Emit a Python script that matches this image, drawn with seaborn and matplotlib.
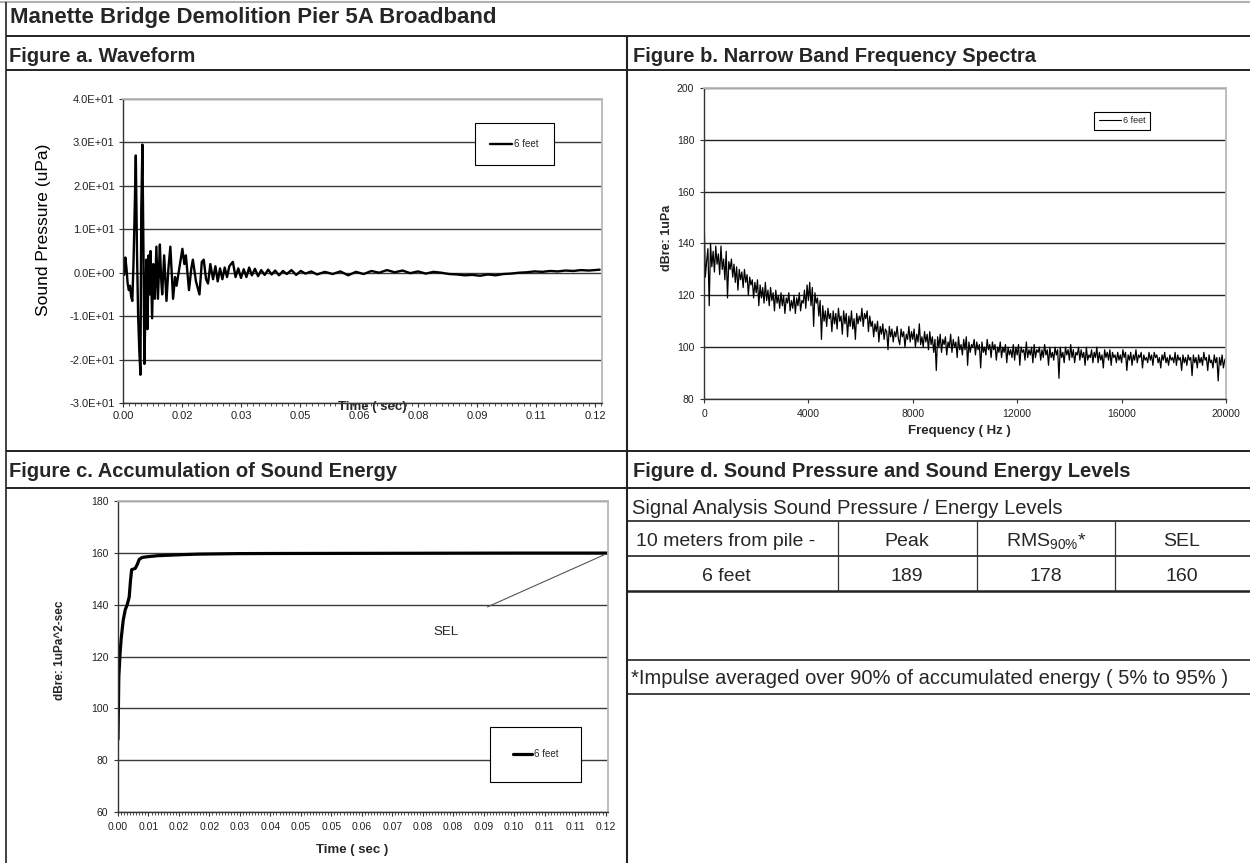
import numpy as np
import matplotlib
matplotlib.use("Agg")
import matplotlib.pyplot as plt
from matplotlib.ticker import FuncFormatter, MultipleLocator
import seaborn as sns

# ---------------- data ----------------
# Figure a: waveform (time in ms, sound pressure)
wave_ms = [0.0, 0.3, 0.6, 0.9, 1.2, 1.5, 1.8, 2.1, 2.4, 2.7,
           3.0, 3.3, 3.6, 3.9, 4.2, 4.5, 4.7, 5.0, 5.3, 5.5,
           5.8, 6.0, 6.3, 6.6, 6.9, 7.1, 7.5, 7.8, 8.2, 8.6,
           9.0, 9.5, 9.8, 10.1, 10.6, 11.2, 11.7, 12.2, 12.9, 13.4,
           13.8, 14.5, 15.3, 15.8, 16.2, 17.0, 17.6, 18.0, 18.8, 19.7,
           20.3, 20.8, 21.4, 21.9, 22.5, 23.2, 23.8, 24.4, 25.0, 25.6,
           26.2, 26.8, 27.4, 28.3, 29.0, 29.7, 30.4, 31.1, 31.8, 32.5,
           33.2, 34.0, 34.8, 35.6, 36.5, 37.4, 38.3, 39.2, 40.2, 41.2,
           42.2, 43.4, 44.6, 45.8, 47.0, 48.5, 50.0, 52.0, 54.0,
           56.0, 58.0, 60.0, 62.0, 64.0, 66.0, 68.0, 70.0, 72.0, 74.0,
           76.0, 78.0, 80.0, 82.0, 84.0, 86.0, 88.0, 90.0, 92.0, 94.0,
           96.0, 98.0, 100.0, 102.0, 104.0, 106.0, 108.0, 110.0, 112.0, 114.0,
           116.0, 118.0, 120.0, 122.8]
wave_upa = [0.0, -0.5, 3.5, 1.0, -2.5, -4.0, -3.0, -5.5, -6.5, 2.0,
            14.0, 27.0, 5.0, -10.0, -18.0, -23.5, 14.0, 29.5, 2.0, -21.0,
            -8.0, 3.0, -13.0, 4.0, -5.0, 5.0, -10.5, 2.0, -6.0, 6.0,
            -6.0, 6.5, -1.0, -5.0, 4.0, -6.5, 1.0, 6.0, -6.0, -1.0,
            -3.0, 1.0, 5.5, 2.0, 4.0, -4.0, 1.0, 3.0, -2.0, -5.0,
            2.5, 3.0, -1.5, -2.5, 2.0, -1.5, 1.5, -2.0, 1.0, -1.5,
            1.2, -1.0, 1.5, 2.5, -1.0, 1.0, -1.2, 0.8, -1.0, 1.2,
            -0.6, 0.9, -0.8, 0.6, -0.5, 0.7, -0.4, 0.5, -0.6, 0.4,
            -0.3, 0.6, -0.5, 0.4, -0.2, 0.3, -0.4, 0.2, -0.3,
            0.3, -0.6, 0.2, -0.3, 0.4, 0.0, 0.6, 0.1, 0.5, -0.1,
            0.3, -0.2, 0.2, 0.0, -0.3, -0.4, -0.6, -0.5, -0.7, -0.4,
            -0.6, -0.3, -0.2, 0.0, 0.1, 0.3, 0.2, 0.4, 0.3, 0.5,
            0.4, 0.6, 0.5, 0.7]

# Figure b: narrow band spectrum, one value per 50 Hz bin (dB re 1 uPa)
spec_step_hz = 50
spec_db = [152, 127, 133, 138, 116, 140, 131, 137, 129, 139,
           132, 136, 128, 139, 130, 134, 126, 137, 119, 133,
           130, 134, 127, 132, 125, 131, 122, 130, 126, 129,
           123, 130, 125, 128, 120, 127, 124, 126, 119, 125,
           121, 126, 116, 124, 119, 123, 117, 125, 118, 122,
           116, 123, 118, 121, 114, 122, 117, 120, 115, 121,
           116, 120, 113, 119, 117, 121, 114, 118, 115, 120,
           113, 119, 116, 121, 114, 118, 117, 122, 115, 124,
           118, 125, 116, 123, 108, 121, 117, 119, 112, 118,
           103, 116, 110, 114, 108, 115, 111, 113, 106, 114,
           109, 113, 107, 115, 110, 112, 105, 114, 109, 113,
           104, 112, 108, 114, 107, 111, 103, 113, 109, 112,
           110, 115, 108, 113, 111, 114, 106, 112, 108, 110,
           104, 109, 106, 110, 102, 108, 105, 109, 103, 107,
           106, 99, 108, 104, 107, 102, 106, 104, 108, 103,
           101, 107, 104, 106, 100, 105, 103, 108, 102, 106,
           103, 107, 100, 105, 102, 109, 101, 104, 100, 106,
           102, 105, 99, 106, 101, 104, 98, 103, 91, 104,
           100, 105, 98, 103, 101, 104, 97, 102, 100, 105,
           98, 103, 100, 102, 96, 104, 99, 101, 97, 103,
           99, 104, 93, 102, 98, 101, 100, 103, 97, 102,
           99, 101, 92, 102, 98, 100, 97, 103, 99, 101,
           96, 102, 99, 101, 95, 100, 98, 102, 96, 100,
           98, 101, 94, 100, 97, 99, 96, 101, 95, 100,
           97, 101, 93, 100, 98, 99, 95, 102, 96, 99,
           97, 100, 94, 101, 96, 99, 98, 100, 95, 99,
           96, 101, 97, 99, 93, 100, 96, 98, 95, 100,
           97, 99, 88, 100, 96, 98, 94, 100, 97, 99,
           95, 101, 96, 99, 94, 98, 97, 100, 95, 99,
           96, 98, 93, 100, 95, 97, 96, 99, 94, 98,
           96, 100, 94, 98, 95, 97, 92, 99, 96, 98,
           95, 99, 93, 98, 96, 97, 94, 98, 95, 97,
           94, 99, 96, 98, 91, 97, 95, 98, 93, 97,
           95, 99, 94, 97, 96, 98, 92, 97, 95, 96,
           94, 98, 95, 97, 93, 98, 96, 97, 94, 96,
           92, 97, 95, 98, 94, 96, 93, 97, 95, 96,
           94, 98, 93, 97, 95, 96, 91, 97, 94, 96,
           93, 97, 95, 96, 89, 97, 94, 96, 92, 97,
           94, 96, 93, 98, 95, 96, 91, 97, 94, 95,
           92, 97, 94, 96, 87, 96, 93, 97, 92, 95,
           96]
spec_hz = np.arange(len(spec_db)) * spec_step_hz

# Figure c: accumulated sound energy
sel_t = [0.0, 0.0002, 0.0005, 0.0008, 0.0013, 0.0018, 0.0023, 0.0028, 0.0031, 0.0034,
         0.0043, 0.0048, 0.0053, 0.0060, 0.0068, 0.0080, 0.0100, 0.0130, 0.0160, 0.0200,
         0.0250, 0.0300, 0.0400, 0.0600, 0.0800, 0.1000, 0.1222]
sel_db = [88, 112, 121, 127, 134, 138, 140, 143, 149, 153.5,
          154, 155.5, 157.5, 158.2, 158.4, 158.6, 158.9, 159.1, 159.3, 159.5,
          159.6, 159.7, 159.75, 159.8, 159.85, 159.9, 159.9]

# Figure d: table
table_title = "Signal Analysis Sound Pressure / Energy Levels"
table_head = ["10 meters from pile -", "Peak", r"RMS$\mathregular{_{90\%}}$*", "SEL"]
table_row = ["6 feet", "189", "178", "160"]
footnote = "*Impulse averaged over 90% of accumulated energy ( 5% to 95% )"
series_name = "6 feet"

# ---------------- styling ----------------
sns.set_theme(style="ticks")
plt.rcParams['font.family'] = ['Liberation Sans', 'DejaVu Sans']
W, H = 1250, 863
fig = plt.figure(figsize=(12.5, 8.63), dpi=100)


def px_axes(l, t, r, b):
    return fig.add_axes([l / W, 1 - b / H, (r - l) / W, (b - t) / H])


def excel_look(ax, grid_color='#3a3a3a'):
    ax.set_facecolor('white')
    for s in ['top', 'right']:
        ax.spines[s].set_color('#b8b8b8')
        ax.spines[s].set_linewidth(1.3)
    for s in ['left', 'bottom']:
        ax.spines[s].set_color('#333333')
        ax.spines[s].set_linewidth(1.0)
    ax.yaxis.grid(True, color=grid_color, lw=1.0)
    ax.xaxis.grid(False)
    ax.set_axisbelow(True)
    ax.tick_params(axis='both', which='major', direction='out', length=3,
                   width=0.8, color='#333333', labelcolor='#222222')
    ax.tick_params(axis='x', which='minor', direction='out', length=2.5,
                   width=0.6, color='#333333')


def box_legend(ax, anchor, fs, pad, hl):
    leg = ax.legend(loc='center', bbox_to_anchor=anchor, frameon=True,
                    fancybox=False, edgecolor='black', framealpha=1,
                    fontsize=fs, borderpad=pad, handlelength=hl,
                    handletextpad=0.2)
    leg.get_frame().set_linewidth(0.8)
    return leg


# background frame of the report page
bg = fig.add_axes([0, 0, 1, 1], zorder=-5)
bg.set_xlim(0, W)
bg.set_ylim(H, 0)
bg.axis('off')
bg.hlines(2, 0, W, color='#b0b0b0', lw=1.5)
bg.vlines(6, 2, H, color='#222222', lw=1.2)
for yy in [36, 70, 451, 488]:
    bg.hlines(yy, 6, W, color='#222222', lw=1.4)
bg.vlines(627, 36, H, color='#222222', lw=1.5)
for yy, lw in [(521, 1.2), (556, 1.2), (591, 1.8), (660, 1.2), (694, 1.2)]:
    bg.hlines(yy, 627, W, color='#222222', lw=lw)
for xx in [838, 977, 1115]:
    bg.vlines(xx, 521, 591, color='#333333', lw=0.9)

bg.text(10, 17, "Manette Bridge Demolition Pier 5A Broadband", fontsize=16,
        fontweight='bold', va='center', ha='left')
hdr = dict(fontsize=14.5, fontweight='bold', va='center', ha='left')
bg.text(9, 56, "Figure a. Waveform", **hdr)
bg.text(633, 56, "Figure b. Narrow Band Frequency Spectra", **hdr)
bg.text(9, 471, "Figure c. Accumulation of Sound Energy", **hdr)
bg.text(633, 471, "Figure d. Sound Pressure and Sound Energy Levels", **hdr)

# Figure d table
bg.text(632, 508, table_title, fontsize=14.5, va='center', ha='left')
col_centers = [726, 907, 1046, 1182]
for cx, h, v in zip(col_centers, table_head, table_row):
    bg.text(cx, 541, h, fontsize=14, va='center', ha='center')
    bg.text(cx, 576, v, fontsize=14, va='center', ha='center')
bg.text(631, 678, footnote, fontsize=14.5, va='center', ha='left')

# ---------------- Figure a ----------------
ax_a = px_axes(123, 99, 602, 403)
excel_look(ax_a)
sns.lineplot(x=np.array(wave_ms) / 1000.0, y=wave_upa, ax=ax_a, color='black',
             lw=1.7, label=series_name, estimator=None, sort=False)
ax_a.set_xlim(0, 0.1234)
ax_a.set_ylim(-30, 40)
ax_a.yaxis.set_major_locator(MultipleLocator(10))
ax_a.yaxis.set_major_formatter(FuncFormatter(lambda v, p: f"{v:.1E}"))
ax_a.xaxis.set_major_locator(MultipleLocator(0.0152))
ax_a.xaxis.set_minor_locator(MultipleLocator(0.00152))
ax_a.xaxis.set_major_formatter(FuncFormatter(lambda v, p: f"{v:.2f}"))
ax_a.tick_params(axis='both', labelsize=8, pad=3)
ax_a.set_xlabel("Time ( sec)", fontsize=9.5, fontweight='bold')
ax_a.xaxis.label.set_va('center')
ax_a.xaxis.set_label_coords(0.52, -0.013)
ax_a.set_ylabel("Sound Pressure (uPa)", fontsize=12.5, color='black')
ax_a.yaxis.label.set_va('center')
ax_a.yaxis.set_label_coords(-0.167, 0.569)
box_legend(ax_a, (0.817, 0.852), 7, 1.6, 2.2)

# ---------------- Figure b ----------------
ax_b = px_axes(704, 88, 1226, 399)
excel_look(ax_b, grid_color='#222222')
sns.lineplot(x=spec_hz, y=spec_db, ax=ax_b, color='black', lw=0.9,
             label=series_name, estimator=None, sort=False)
ax_b.set_xlim(0, 20000)
ax_b.set_ylim(80, 200)
ax_b.yaxis.set_major_locator(MultipleLocator(20))
ax_b.xaxis.set_major_locator(MultipleLocator(4000))
ax_b.tick_params(axis='both', labelsize=7.5, pad=4)
ax_b.set_xlabel("Frequency ( Hz )", fontsize=9.5, fontweight='bold')
ax_b.xaxis.label.set_va('center')
ax_b.xaxis.set_label_coords(0.489, -0.103)
ax_b.set_ylabel("dBre: 1uPa", fontsize=9, fontweight='bold')
ax_b.yaxis.label.set_va('center')
ax_b.yaxis.set_label_coords(-0.071, 0.518)
leg_b = box_legend(ax_b, (0.801, 0.894), 6.5, 0.5, 2.5)
for h in leg_b.get_lines():
    h.set_linewidth(0.8)

# ---------------- Figure c ----------------
ax_c = px_axes(118, 501, 608, 812)
excel_look(ax_c)
sns.lineplot(x=sel_t, y=sel_db, ax=ax_c, color='black', lw=2.3,
             label=series_name, estimator=None, sort=False)
ax_c.set_xlim(0, 0.1222)
ax_c.set_ylim(60, 180)
ax_c.yaxis.set_major_locator(MultipleLocator(20))
ax_c.xaxis.set_major_locator(MultipleLocator(0.0076))
ax_c.xaxis.set_minor_locator(MultipleLocator(0.00076))
ax_c.xaxis.set_major_formatter(FuncFormatter(lambda v, p: f"{v:.2f}"))
ax_c.tick_params(axis='both', labelsize=7.5, pad=4)
ax_c.set_xlabel("Time ( sec )", fontsize=9.5, fontweight='bold')
ax_c.xaxis.label.set_va('center')
ax_c.xaxis.set_label_coords(0.478, -0.122)
ax_c.set_ylabel("dBre: 1uPa^2-sec", fontsize=8.5, fontweight='bold')
ax_c.yaxis.label.set_va('center')
ax_c.yaxis.set_label_coords(-0.118, 0.521)
ax_c.text(0.0817, 129.4, "SEL", fontsize=9.5, ha='center', va='center')
ax_c.annotate("", xy=(sel_t[-1], sel_db[-1]), xytext=(0.0915, 138.7),
              arrowprops=dict(arrowstyle='-', color='#555555', lw=0.8))
box_legend(ax_c, (0.852, 0.186), 7, 2.3, 2.0)

fig.savefig("out.png", dpi=100)
